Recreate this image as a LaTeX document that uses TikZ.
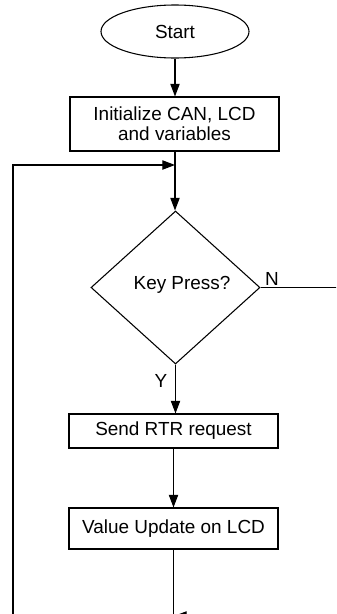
\documentclass[tikz,border=0pt]{standalone}
\usepackage{fontspec}
\setmainfont{Liberation Sans}
\usetikzlibrary{shapes.geometric,arrows.meta}
\begin{document}
\begin{tikzpicture}[x=0.75pt,y=-0.75pt,
  every node/.style={font=\fontsize{14.2}{15}\selectfont, text=black},
  flowline/.style={draw=black, line width=0.8pt},
  arr/.style={flowline, -{Triangle[length=9.5pt,width=7pt]}},
  procbox/.style={draw=black, line width=0.8pt, rectangle, minimum width=156.75pt, inner sep=0pt, align=center},
  terminal/.style={draw=black, line width=0.8pt, ellipse, minimum width=111pt, minimum height=39.75pt, inner sep=0pt},
  decision/.style={draw=black, line width=0.8pt, diamond, minimum width=126.75pt, minimum height=114.75pt, inner sep=0pt},
  branch/.style={font=\fontsize{14.2}{15}\selectfont}
]
\useasboundingbox (0,0) rectangle (336,614);
\clip (0,0) rectangle (336,614);

% flowchart blocks
\node[terminal] (start) at (175,31.5) {Start};
\node[procbox, minimum height=40.5pt] (init) at (174.5,124) {Initialize CAN, LCD\\and variables};
\node[decision, label={[xshift=4.9pt,yshift=2.2pt]center:Key Press?}] (key) at (175.5,287.5) {};
\node[procbox, minimum height=25.5pt] (send) at (173.5,431) {Send RTR request};
\node[procbox, minimum height=30.75pt] (update) at (173.5,528.5) {Value Update on LCD};

% branch labels
\node[branch] (nlab) at (272,279) {N};
\node[branch] (ylab) at (161,381) {Y};

% helper points for the loop-back paths
\coordinate (join) at (175,165);
\coordinate (loopbl) at (13,640);
\coordinate (nright) at (345,287.5);
\coordinate (nbottom) at (345,616);
\coordinate (njoin) at (174,616);

% main flow
\draw[arr] (start.south) -- (start.south |- init.north);
\draw[arr] (init.south -| join) -- (key.north -| join);
\draw[arr] (key.south) -- (key.south |- send.north);
\draw[arr] (send.south) -- (update.north);

% loop back to the top
\draw[arr] (update.south) -- (update.south |- loopbl) -- (loopbl) -- (loopbl |- join) -- (join);

% "N" branch returns to the main line
\draw[arr] (key.east) -- (nright) -- (nbottom) -- (njoin);
\end{tikzpicture}
\end{document}
